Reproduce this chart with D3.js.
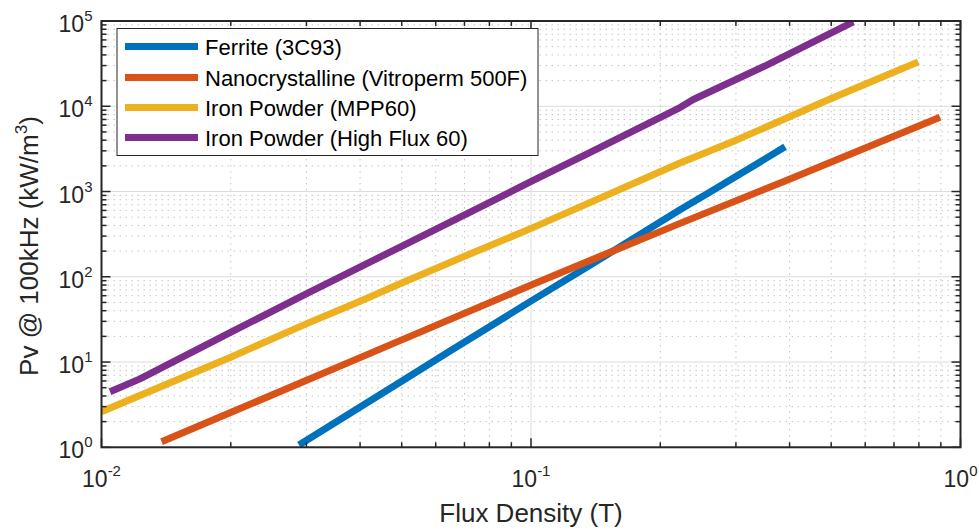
<!DOCTYPE html>
<html>
<head>
<meta charset="utf-8">
<script src="https://cdn.jsdelivr.net/npm/d3@7"></script>
<style>
  html, body { margin: 0; padding: 0; background: #ffffff; }
  svg { display: block; font-family: "Liberation Sans", Arial, Helvetica, sans-serif; }
</style>
</head>
<body>
<svg id="chart" width="979" height="531"></svg>
<script>
// ---- data ----
const seriesNames = ["Ferrite (3C93)", "Nanocrystalline (Vitroperm 500F)", "Iron Powder (MPP60)", "Iron Powder (High Flux 60)"];
const seriesColors = ["#0072BD", "#D95319", "#EDB120", "#7E2F8E"];

const ferriteB  = [0.02883, 0.04955, 0.06478, 0.1004, 0.1348, 0.2223, 0.2612, 0.3904];
const ferritePv = [1.064, 5.8, 13.5, 52.5, 129, 612, 985, 3342];

const nanoB  = [0.0138, 0.01992, 0.03004, 0.04, 0.04955, 0.1004, 0.1422, 0.2223, 0.3868, 0.8959];
const nanoPv = [1.163, 2.54, 6.13, 11.27, 17.84, 80.5, 167, 423, 1305, 7440];

const mppB  = [0.0100, 0.01992, 0.03004, 0.04, 0.04955, 0.06958, 0.1004, 0.2223, 0.3013, 0.4969, 0.6851, 0.7976];
const mppPv = [2.615, 11.3, 28.2, 51.5, 83.0, 171.6, 372, 2160, 4030, 12150, 24100, 33150];

const hfB  = [0.01047, 0.01229, 0.01992, 0.03004, 0.04955, 0.0832, 0.1004, 0.1348, 0.2223, 0.2387, 0.3539, 0.5629];
const hfPv = [4.49, 6.35, 22.1, 63.5, 223, 820, 1320, 2750, 9650, 12000, 30400, 97550];

const xMajorTicks = [0.01, 0.1, 1];
const xTickExponents = ["-2", "-1", "0"];
const yMajorTicks = [1, 10, 100, 1000, 10000, 100000];
const yTickExponents = ["0", "1", "2", "3", "4", "5"];

const xLabel = "Flux Density (T)";
const yLabelMain = "Pv @ 100kHz (kW/m";
const yLabelSup = "3";
const yLabelEnd = ")";

// ---- layout ----
const svg = d3.select("#chart");
const L = 101.5, R = 960.5, T = 21, B = 447.3;

const x = d3.scaleLog().domain([0.01, 1]).range([L, R]);
const y = d3.scaleLog().domain([1, 100000]).range([B, T]);

const series = [
  {name: seriesNames[0], color: seriesColors[0], b: ferriteB, pv: ferritePv},
  {name: seriesNames[1], color: seriesColors[1], b: nanoB, pv: nanoPv},
  {name: seriesNames[2], color: seriesColors[2], b: mppB, pv: mppPv},
  {name: seriesNames[3], color: seriesColors[3], b: hfB, pv: hfPv}
];

// minor tick values
const xMinor = [];
[0.01, 0.1].forEach(d => { for (let k = 2; k <= 9; k++) xMinor.push(d * k); });
const yMinor = [];
[1, 10, 100, 1000, 10000].forEach(d => { for (let k = 2; k <= 9; k++) yMinor.push(d * k); });

// ---- grid ----
const grid = svg.append("g");
grid.selectAll(".xminor").data(xMinor).join("line")
  .attr("x1", d => x(d)).attr("x2", d => x(d)).attr("y1", T).attr("y2", B)
  .attr("stroke", "#c4c4c4").attr("stroke-width", 1).attr("stroke-dasharray", "1.5,4.5");
grid.selectAll(".yminor").data(yMinor).join("line")
  .attr("y1", d => y(d)).attr("y2", d => y(d)).attr("x1", L).attr("x2", R)
  .attr("stroke", "#c4c4c4").attr("stroke-width", 1).attr("stroke-dasharray", "1.5,4.5");
grid.selectAll(".xmajor").data(xMajorTicks).join("line")
  .attr("x1", d => x(d)).attr("x2", d => x(d)).attr("y1", T).attr("y2", B)
  .attr("stroke", "#dcdcdc").attr("stroke-width", 1);
grid.selectAll(".ymajor").data(yMajorTicks).join("line")
  .attr("y1", d => y(d)).attr("y2", d => y(d)).attr("x1", L).attr("x2", R)
  .attr("stroke", "#dcdcdc").attr("stroke-width", 1);

// ---- series ----
svg.append("defs").append("clipPath").attr("id", "clip")
  .append("rect").attr("x", L).attr("y", T).attr("width", R - L).attr("height", B - T);

const line = d3.line().x(d => x(d[0])).y(d => y(d[1]));
const plot = svg.append("g").attr("clip-path", "url(#clip)");
series.forEach(s => {
  const pts = s.b.map((b, i) => [b, s.pv[i]]);
  plot.append("path").datum(pts)
    .attr("d", line)
    .attr("fill", "none")
    .attr("stroke", s.color)
    .attr("stroke-width", 7)
    .attr("stroke-linejoin", "round")
    .attr("stroke-linecap", "butt");
});

// ---- axes (box with inward ticks on all sides) ----
const axisColor = "#262626";
const majorLen = 9, minorLen = 5;
const axG = svg.append("g");

// bottom & top x ticks
[[xMajorTicks, majorLen], [xMinor, minorLen]].forEach(([vals, len]) => {
  axG.append("g").selectAll("line").data(vals).join("line")
    .attr("x1", d => x(d)).attr("x2", d => x(d)).attr("y1", B).attr("y2", B - len)
    .attr("stroke", axisColor).attr("stroke-width", 1.5);
  axG.append("g").selectAll("line").data(vals).join("line")
    .attr("x1", d => x(d)).attr("x2", d => x(d)).attr("y1", T).attr("y2", T + len)
    .attr("stroke", axisColor).attr("stroke-width", 1.5);
});
// left & right y ticks
[[yMajorTicks, majorLen], [yMinor, minorLen]].forEach(([vals, len]) => {
  axG.append("g").selectAll("line").data(vals).join("line")
    .attr("y1", d => y(d)).attr("y2", d => y(d)).attr("x1", L).attr("x2", L + len)
    .attr("stroke", axisColor).attr("stroke-width", 1.5);
  axG.append("g").selectAll("line").data(vals).join("line")
    .attr("y1", d => y(d)).attr("y2", d => y(d)).attr("x1", R).attr("x2", R - len)
    .attr("stroke", axisColor).attr("stroke-width", 1.5);
});
axG.append("rect").attr("x", L).attr("y", T).attr("width", R - L).attr("height", B - T)
  .attr("fill", "none").attr("stroke", axisColor).attr("stroke-width", 2);

// tick labels
const tickFont = 23, supFont = 15;
xMajorTicks.forEach((v, i) => {
  const t = svg.append("text").attr("x", x(v)).attr("y", B + 40)
    .attr("text-anchor", "middle").attr("font-size", tickFont).attr("fill", axisColor);
  t.append("tspan").text("10");
  t.append("tspan").attr("font-size", supFont).attr("dy", -11).text(xTickExponents[i]);
});
yMajorTicks.forEach((v, i) => {
  const t = svg.append("text").attr("x", L - 9).attr("y", y(v) + 11)
    .attr("text-anchor", "end").attr("font-size", tickFont).attr("fill", axisColor);
  t.append("tspan").text("10");
  t.append("tspan").attr("font-size", supFont).attr("dy", -11).text(yTickExponents[i]);
});

// axis labels
svg.append("text").attr("x", (L + R) / 2).attr("y", 522)
  .attr("text-anchor", "middle").attr("font-size", 26).attr("fill", axisColor)
  .text(xLabel);

const yl = svg.append("text")
  .attr("transform", "translate(38," + 246 + ") rotate(-90)")
  .attr("text-anchor", "middle").attr("font-size", 26).attr("fill", axisColor);
yl.append("tspan").text(yLabelMain);
yl.append("tspan").attr("font-size", 17).attr("dy", -11).text(yLabelSup);
yl.append("tspan").attr("dy", 11).text(yLabelEnd);

// ---- legend ----
const lg = svg.append("g");
lg.append("rect").attr("x", 117).attr("y", 28.5).attr("width", 421).attr("height", 127)
  .attr("fill", "#ffffff").attr("stroke", axisColor).attr("stroke-width", 1);
const rowY = [46.5, 77.5, 107.5, 137.5];
series.forEach((s, i) => {
  lg.append("line").attr("x1", 125).attr("x2", 198).attr("y1", rowY[i]).attr("y2", rowY[i])
    .attr("stroke", s.color).attr("stroke-width", 7);
  lg.append("text").attr("x", 205).attr("y", rowY[i] + 8)
    .attr("font-size", 22).attr("fill", "#000000").text(s.name);
});
</script>
</body>
</html>
